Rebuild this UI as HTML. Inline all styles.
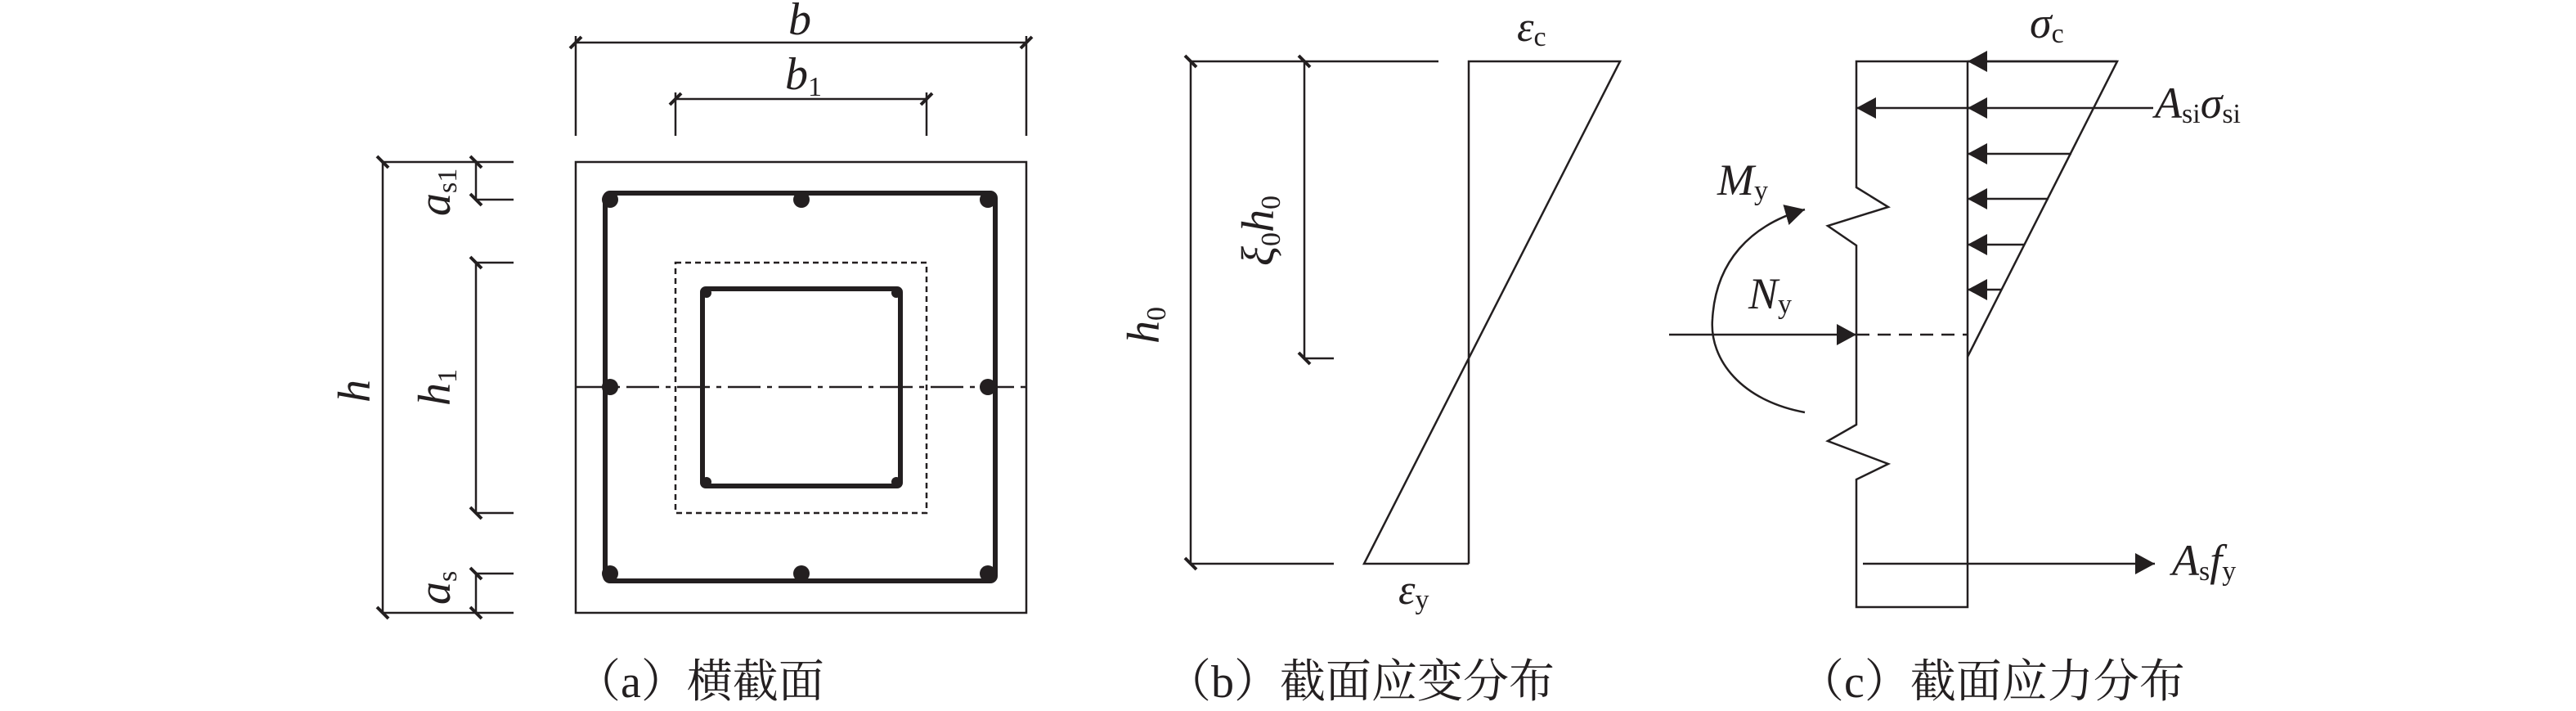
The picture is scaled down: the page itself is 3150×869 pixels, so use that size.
<!DOCTYPE html>
<html><head><meta charset="utf-8"><style>
html,body{margin:0;padding:0;background:#fff;}
svg{display:block;}
text{font-family:"Liberation Serif","Noto Serif CJK SC",serif;fill:#231f20;}
.i{font-style:italic;}
.cap{font-family:"Liberation Serif","Noto Serif CJK SC",serif;font-size:56px;}
</style></head><body>
<svg width="3150" height="869" viewBox="0 0 3150 869" xmlns="http://www.w3.org/2000/svg">
<defs>
<marker id="ah" viewBox="0 0 24 26" refX="24" refY="13" markerWidth="24" markerHeight="26" markerUnits="userSpaceOnUse" orient="auto">
<path d="M0,0 L24,13 L0,26 Z" fill="#231f20"/></marker>
</defs>
<g stroke="#231f20" stroke-width="2.5" fill="none">
<line x1="704" y1="52" x2="1255" y2="52"/>
<line x1="704" y1="44" x2="704" y2="166"/><line x1="1255" y1="44" x2="1255" y2="166"/>
<line x1="826" y1="121" x2="1133" y2="121"/>
<line x1="826" y1="113" x2="826" y2="166"/><line x1="1133" y1="113" x2="1133" y2="166"/>
<g stroke-width="4">
<line x1="697" y1="59" x2="711" y2="45"/><line x1="1248" y1="59" x2="1262" y2="45"/>
<line x1="819" y1="128" x2="833" y2="114"/><line x1="1126" y1="128" x2="1140" y2="114"/>
</g>
<rect x="704" y="198" width="551" height="551"/>
<rect x="740" y="236" width="477" height="474" stroke-width="6" rx="6"/>
<rect x="826" y="321" width="307" height="306" stroke-dasharray="7,5"/>
<rect x="859" y="353" width="242" height="241" stroke-width="6" rx="4"/>
<line x1="704" y1="473" x2="1255" y2="473" stroke-dasharray="40,8,6,8"/>
<line x1="468" y1="198" x2="468" y2="749"/>
<line x1="468" y1="198" x2="628" y2="198"/><line x1="468" y1="749" x2="628" y2="749"/>
<line x1="582" y1="198" x2="582" y2="244"/><line x1="582" y1="244" x2="628" y2="244"/>
<line x1="582" y1="321" x2="582" y2="627"/><line x1="582" y1="321" x2="628" y2="321"/><line x1="582" y1="627" x2="628" y2="627"/>
<line x1="582" y1="701" x2="582" y2="749"/><line x1="582" y1="701" x2="628" y2="701"/>
<g stroke-width="4">
<line x1="461" y1="191" x2="475" y2="205"/><line x1="461" y1="742" x2="475" y2="756"/>
<line x1="575" y1="191" x2="589" y2="205"/><line x1="575" y1="237" x2="589" y2="251"/>
<line x1="575" y1="314" x2="589" y2="328"/><line x1="575" y1="620" x2="589" y2="634"/>
<line x1="575" y1="694" x2="589" y2="708"/><line x1="575" y1="742" x2="589" y2="756"/>
</g>
<line x1="1456" y1="75" x2="1456" y2="689"/>
<line x1="1456" y1="75" x2="1759" y2="75"/><line x1="1456" y1="689" x2="1631" y2="689"/>
<line x1="1595" y1="75" x2="1595" y2="438"/><line x1="1595" y1="438" x2="1631" y2="438"/>
<g stroke-width="4">
<line x1="1449" y1="68" x2="1463" y2="82"/><line x1="1449" y1="682" x2="1463" y2="696"/>
<line x1="1588" y1="68" x2="1602" y2="82"/><line x1="1588" y1="431" x2="1602" y2="445"/>
</g>
<polyline points="1796,689 1796,75 1981,75 1668,689 1796,689"/>
<polyline points="2406,75 2270,75 2270,229 2309,253 2235,276 2270,300 2270,519 2235,539 2309,567 2270,586 2270,742 2406,742 2406,75"/>
<polyline points="2406,75 2589,75 2406,436"/>
<line x1="2589" y1="75" x2="2406" y2="75" marker-end="url(#ah)"/>
<line x1="2633" y1="132" x2="2270" y2="132" marker-end="url(#ah)"/>
<path d="M2430,132 L2406,132" marker-end="url(#ah)"/>
<line x1="2533" y1="188" x2="2406" y2="188" marker-end="url(#ah)"/>
<line x1="2505" y1="243" x2="2406" y2="243" marker-end="url(#ah)"/>
<line x1="2476" y1="299" x2="2406" y2="299" marker-end="url(#ah)"/>
<line x1="2448" y1="354" x2="2406" y2="354" marker-end="url(#ah)"/>
<line x1="2270" y1="409" x2="2406" y2="409" stroke-dasharray="16,10"/>
<line x1="2041" y1="409" x2="2270" y2="409" marker-end="url(#ah)"/>
<line x1="2278" y1="689" x2="2635" y2="689" marker-end="url(#ah)"/>
<path d="M2207,504 C2130,490 2090,440 2094,390 C2098,320 2140,275 2207,256" marker-end="url(#ah)"/>
</g>
<g fill="#231f20">
<circle cx="746" cy="244" r="10"/><circle cx="980" cy="244" r="10"/><circle cx="1208" cy="244" r="10"/>
<circle cx="746" cy="473" r="10"/><circle cx="1208" cy="473" r="10"/>
<circle cx="746" cy="701" r="10"/><circle cx="980" cy="701" r="10"/><circle cx="1208" cy="701" r="10"/>
<circle cx="864" cy="358" r="6"/><circle cx="1096" cy="358" r="6"/><circle cx="864" cy="589" r="6"/><circle cx="1096" cy="589" r="6"/>
</g>
<text x="964" y="42" class="i" font-size="56">b</text>
<text x="960" y="109" class="i" font-size="56">b<tspan font-style="normal" font-size="34" dy="8">1</tspan></text>
<text transform="translate(452,492) rotate(-90)" class="i" font-size="56">h</text>
<text transform="translate(550,496) rotate(-90)" class="i" font-size="56">h<tspan font-style="normal" font-size="34" dy="8">1</tspan></text>
<text transform="translate(550,264) rotate(-90)" class="i" font-size="56">a<tspan font-style="normal" font-size="34" dy="8">s1</tspan></text>
<text transform="translate(550,739) rotate(-90)" class="i" font-size="56">a<tspan font-style="normal" font-size="34" dy="8">s</tspan></text>
<text transform="translate(1417,420) rotate(-90)" class="i" font-size="56">h<tspan font-style="normal" font-size="34" dy="8">0</tspan></text>
<text transform="translate(1557,325) rotate(-90)" class="i" font-size="56">ξ<tspan font-style="normal" font-size="34" dy="8">0</tspan><tspan dy="-8">h</tspan><tspan font-style="normal" font-size="34" dy="8">0</tspan></text>
<text x="1855" y="50" class="i" font-size="52">ε<tspan font-style="normal" font-size="34" dy="6">c</tspan></text>
<text x="1710" y="738" class="i" font-size="52">ε<tspan font-style="normal" font-size="34" dy="6">y</tspan></text>
<text x="2482" y="46" class="i" font-size="54">σ<tspan font-style="normal" font-size="34" dy="6">c</tspan></text>
<text x="2635" y="144" class="i" font-size="54">A<tspan font-style="normal" font-size="34" dy="6">si</tspan><tspan dy="-6">σ</tspan><tspan font-style="normal" font-size="34" dy="6">si</tspan></text>
<text x="2100" y="238" class="i" font-size="54">M<tspan font-style="normal" font-size="34" dy="6">y</tspan></text>
<text x="2138" y="377" class="i" font-size="54">N<tspan font-style="normal" font-size="34" dy="6">y</tspan></text>
<text x="2656" y="703" class="i" font-size="54">A<tspan font-style="normal" font-size="34" dy="6">s</tspan><tspan dy="-6">f</tspan><tspan font-style="normal" font-size="34" dy="6">y</tspan></text>
<text x="703" y="852" class="cap">（a）横截面</text>
<text x="1425" y="852" class="cap">（b）截面应变分布</text>
<text x="2199" y="852" class="cap">（c）截面应力分布</text>
</svg>
</body></html>
